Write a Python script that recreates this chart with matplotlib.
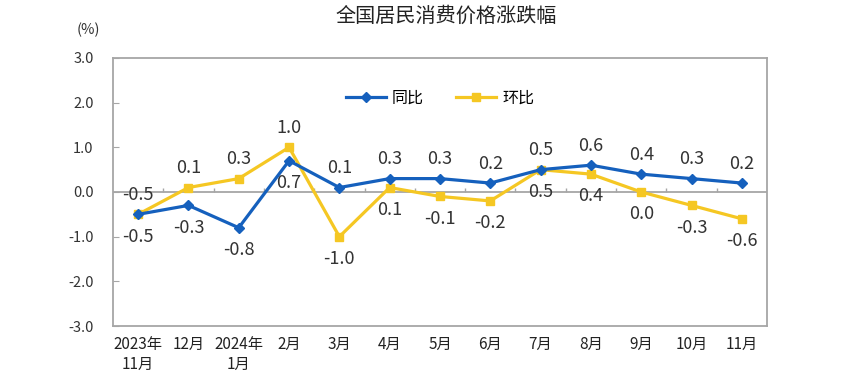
import matplotlib
matplotlib.use("Agg")
import matplotlib.pyplot as plt

plt.rcParams['font.family'] = ['Noto Sans CJK SC', 'DejaVu Sans']

# 数据
months = ['2023年\n11月', '12月', '2024年\n1月', '2月', '3月', '4月', '5月',
          '6月', '7月', '8月', '9月', '10月', '11月']
tongbi = [-0.5, -0.3, -0.8, 0.7, 0.1, 0.3, 0.3, 0.2, 0.5, 0.6, 0.4, 0.3, 0.2]
huanbi = [-0.5, 0.1, 0.3, 1.0, -1.0, 0.1, -0.1, -0.2, 0.5, 0.4, 0.0, -0.3, -0.6]
yticks = [-3.0, -2.0, -1.0, 0.0, 1.0, 2.0, 3.0]

azul = '#1560bd'
amarelo = '#f5c723'
cinza = '#a6a6a6'

fig = plt.figure(figsize=(8.47, 3.9), dpi=100)
ax = fig.add_axes([0.1334, 0.1641, 0.7721, 0.6872])

x = list(range(len(months)))
ax.plot(x, tongbi, color=azul, lw=2.3, marker='D', ms=5, label='同比', zorder=4)
ax.plot(x, huanbi, color=amarelo, lw=2.3, marker='s', ms=5.5, label='环比', zorder=3)

# linha do zero com tracinhos entre categorias
ax.axhline(0, color=cinza, lw=1.3, zorder=1)
ax.vlines([i + 0.5 for i in x[:-1]], 0, 0.08, color=cinza, lw=1)

# rótulos: o maior em cima, o menor embaixo
for i in x:
    t, h = tongbi[i], huanbi[i]
    if h >= t:
        cima, baixo = h, t
    else:
        cima, baixo = t, h
    ax.annotate(f'{cima:.1f}', (i, cima), xytext=(0, 14), textcoords='offset points',
                ha='center', va='center', fontsize=13, color='#333333')
    ax.annotate(f'{baixo:.1f}', (i, baixo), xytext=(0, -16), textcoords='offset points',
                ha='center', va='center', fontsize=13, color='#333333')

ax.set_xlim(-0.5, len(months) - 0.5)
ax.set_ylim(-3, 3)
ax.set_yticks(yticks)
ax.set_yticklabels([f'{v:.1f}' for v in yticks], fontsize=10.5, color='#333333')
ax.set_xticks(x)
ax.set_xticklabels(months, fontsize=11, color='#222222', linespacing=1.25)
ax.tick_params(axis='x', length=0, pad=7)
ax.tick_params(axis='y', direction='in', length=4, color=cinza, pad=14)

for s in ax.spines.values():
    s.set_color(cinza)
    s.set_linewidth(1.3)

ax.legend(loc='center', bbox_to_anchor=(0.5, 0.85), ncol=2, frameon=False,
          fontsize=11.5, handlelength=2.5, columnspacing=2.0, handletextpad=0.4)

fig.text(88 / 847, 1 - 30 / 390, '(%)', ha='center', va='center', fontsize=10.5, color='#333333')
fig.text(446 / 847, 1 - 16 / 390, '全国居民消费价格涨跌幅', ha='center', va='center',
         fontsize=14.5, color='#222222', fontweight='medium')

fig.savefig('out.png', dpi=100)
